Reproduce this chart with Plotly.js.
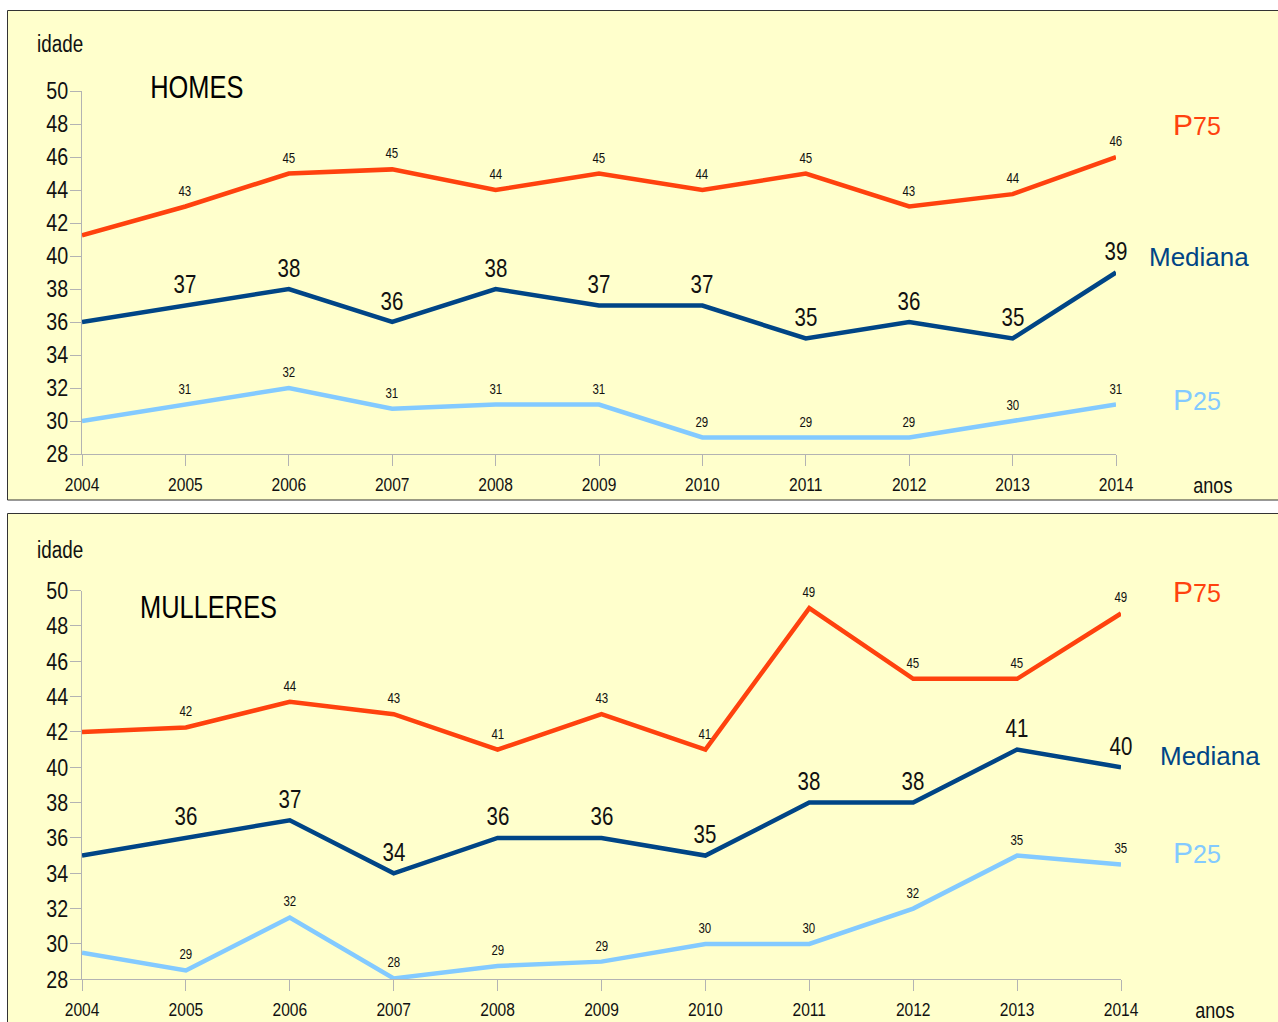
<!DOCTYPE html>
<html>
<head>
<meta charset="utf-8">
<script src="https://cdn.plot.ly/plotly-3.0.1.min.js"></script>
<style>
html,body{margin:0;padding:0;background:#fff;}
#chart{width:1278px;height:1022px;}
</style>
</head>
<body>
<div id="chart"></div>
<script>
// ---- data ----
const years = [2004, 2005, 2006, 2007, 2008, 2009, 2010, 2011, 2012, 2013, 2014];

const homesP75 = [41.25, 43, 45, 45.25, 44, 45, 44, 45, 43, 43.75, 46];
const homesMed = [36, 37, 38, 36, 38, 37, 37, 35, 36, 35, 39];
const homesP25 = [30, 31, 32, 30.75, 31, 31, 29, 29, 29, 30, 31];
const homesP75Labels = [null, "43", "45", "45", "44", "45", "44", "45", "43", "44", "46"];
const homesMedLabels = [null, "37", "38", "36", "38", "37", "37", "35", "36", "35", "39"];
const homesP25Labels = [null, "31", "32", "31", "31", "31", "29", "29", "29", "30", "31"];

const mullP75 = [42, 42.25, 43.7, 43, 41, 43, 41, 49, 45, 45, 48.7];
const mullMed = [35, 36, 37, 34, 36, 36, 35, 38, 38, 41, 40];
const mullP25 = [29.5, 28.5, 31.5, 28.05, 28.75, 29, 30, 30, 32, 35, 34.5];
const mullP75Labels = [null, "42", "44", "43", "41", "43", "41", "49", "45", "45", "49"];
const mullMedLabels = [null, "36", "37", "34", "36", "36", "35", "38", "38", "41", "40"];
const mullP25Labels = [null, "29", "32", "28", "29", "29", "30", "30", "32", "35", "35"];

const yTicks = [28, 30, 32, 34, 36, 38, 40, 42, 44, 46, 48, 50];
const panelTitles = ["HOMES", "MULLERES"];
const seriesNames = ["P75", "Mediana", "P25"];

// ---- style ----
const W = 1278, H = 1022;
const cP75 = "#ff420e", cMed = "#004586", cP25 = "#83caff";
const NARROW = "Liberation Sans Narrow, Liberation Sans, Arial, sans-serif";
const REG = "Liberation Sans, Arial, sans-serif";
const px = v => v / W;
const py = v => 1 - v / H;

function lineTrace(y, color, xa, ya) {
  return {x: years, y: y, type: "scatter", mode: "lines", xaxis: xa, yaxis: ya,
    line: {color: color, width: 4.5}, cliponaxis: false, hoverinfo: "skip", showlegend: false};
}

const data = [
  lineTrace(homesP75, cP75, "x", "y"),
  lineTrace(homesMed, cMed, "x", "y"),
  lineTrace(homesP25, cP25, "x", "y"),
  lineTrace(mullP75, cP75, "x2", "y2"),
  lineTrace(mullMed, cMed, "x2", "y2"),
  lineTrace(mullP25, cP25, "x2", "y2")
];

const annotations = [];
function addLabels(vals, labels, xref, yref, size, shift) {
  years.forEach((yr, i) => {
    if (labels[i] === null) return;
    annotations.push({x: yr, y: vals[i], xref: xref, yref: yref, text: labels[i],
      showarrow: false, yshift: shift, xanchor: "center", yanchor: "middle",
      font: {family: NARROW, size: size, color: "#111"}});
  });
}
addLabels(homesP75, homesP75Labels, "x", "y", 14, 16);
addLabels(homesMed, homesMedLabels, "x", "y", 25, 21.5);
addLabels(homesP25, homesP25Labels, "x", "y", 14, 16);
addLabels(mullP75, mullP75Labels, "x2", "y2", 14, 16);
addLabels(mullMed, mullMedLabels, "x2", "y2", 25, 21.5);
addLabels(mullP25, mullP25Labels, "x2", "y2", 14, 16);

function paperText(text, x, y, size, color, family) {
  annotations.push({xref: "paper", yref: "paper", x: px(x), y: py(y), text: text,
    showarrow: false, xanchor: "center", yanchor: "middle",
    font: {family: family, size: size, color: color}});
}
function pLabel(name) {
  return '<span style="font-size:30px">' + name.charAt(0) + '</span>' +
         '<span style="font-size:25px">' + name.slice(1) + '</span>';
}
// panel 1
paperText("idade", 60, 44, 23, "#111", NARROW);
paperText(panelTitles[0], 197, 87, 31, "#000", NARROW);
paperText("anos", 1213, 485, 22, "#111", NARROW);
paperText(pLabel(seriesNames[0]), 1197, 124, 28, cP75, REG);
paperText(seriesNames[1], 1199, 257, 26, cMed, REG);
paperText(pLabel(seriesNames[2]), 1197, 399, 28, cP25, REG);
// panel 2
paperText("idade", 60, 550, 23, "#111", NARROW);
paperText(panelTitles[1], 208, 607, 31, "#000", NARROW);
paperText("anos", 1215, 1010, 22, "#111", NARROW);
paperText(pLabel(seriesNames[0]), 1197, 591, 28, cP75, REG);
paperText(seriesNames[1], 1210, 756, 26, cMed, REG);
paperText(pLabel(seriesNames[2]), 1197, 852, 28, cP25, REG);

const shapes = [
  {type: "rect", xref: "paper", yref: "paper", x0: px(7.5), x1: px(1290), y0: py(500), y1: py(10.5),
   fillcolor: "#ffffcc", line: {color: "#333", width: 1}, layer: "below"},
  {type: "rect", xref: "paper", yref: "paper", x0: px(7.5), x1: px(1290), y0: py(1040), y1: py(513.5),
   fillcolor: "#ffffcc", line: {color: "#333", width: 1}, layer: "below"}
];

function yAxis(domain, anchor) {
  return {domain: domain, anchor: anchor, range: [28, 50], tickvals: yTicks, ticktext: yTicks.map(String),
    showline: true, linecolor: "#b3b3b3", linewidth: 1, ticks: "outside", ticklen: 11, tickcolor: "#b3b3b3",
    showgrid: false, zeroline: false, fixedrange: true, ticklabelstandoff: -3,
    tickfont: {family: NARROW, size: 24, color: "#111"}};
}
function xAxis(domain, anchor) {
  return {domain: domain, anchor: anchor, range: [2004, 2014], tickvals: years, ticktext: years.map(String),
    showline: true, linecolor: "#b3b3b3", linewidth: 1, ticks: "outside", ticklen: 11, tickcolor: "#b3b3b3",
    showgrid: false, zeroline: false, fixedrange: true, ticklabelstandoff: 2,
    tickfont: {family: NARROW, size: 19, color: "#111"}};
}

const layout = {
  width: W, height: H,
  margin: {l: 0, r: 0, t: 0, b: 0},
  paper_bgcolor: "#ffffff", plot_bgcolor: "rgba(0,0,0,0)",
  showlegend: false,
  xaxis: xAxis([px(82), px(1116)], "y"),
  yaxis: yAxis([py(454), py(91)], "x"),
  xaxis2: xAxis([px(82), px(1121)], "y2"),
  yaxis2: yAxis([py(979.3), py(590.5)], "x2"),
  shapes: shapes,
  annotations: annotations
};

// Narrow font is not installed here: emulate it by condensing Liberation Sans horizontally.
function narrowInstalled() {
  const c = document.createElement("canvas").getContext("2d");
  c.font = "40px 'Liberation Sans Narrow', monospace";
  const a = c.measureText("2004 HOMES idade").width;
  c.font = "40px monospace";
  const b = c.measureText("2004 HOMES idade").width;
  return a !== b;
}
function condense() {
  if (narrowInstalled()) return;
  const s = 0.82;
  document.querySelectorAll("#chart svg text").forEach(t => {
    const ff = t.style.fontFamily || "";
    if (ff.indexOf("Narrow") < 0) return;
    const bb = t.getBBox();
    const anchor = t.getAttribute("text-anchor") || "start";
    let cx = bb.x + bb.width / 2;
    if (anchor === "start") cx = bb.x;
    if (anchor === "end") cx = bb.x + bb.width;
    const old = t.getAttribute("transform") || "";
    t.setAttribute("transform", (old + " translate(" + cx + ",0) scale(" + s + ",1) translate(" + (-cx) + ",0)").trim());
  });
}

Plotly.newPlot("chart", data, layout, {displayModeBar: false, staticPlot: true}).then(condense);
</script>
</body>
</html>
